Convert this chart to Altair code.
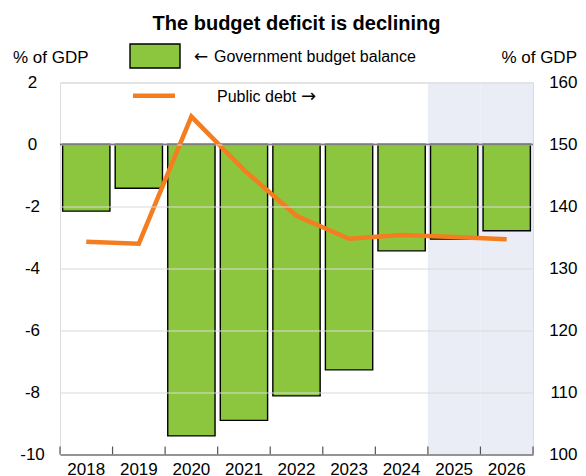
import altair as alt
import pandas as pd

years = ["2018", "2019", "2020", "2021", "2022", "2023", "2024", "2025", "2026"]
budget_balance = [-2.15, -1.41, -9.40, -8.90, -8.11, -7.27, -3.43, -3.05, -2.78]
public_debt = [134.3, 134.0, 154.5, 145.9, 138.5, 134.8, 135.4, 135.1, 134.7]
forecast_years = ["2025", "2026"]
left_ticks = [-10, -8, -6, -4, -2, 0, 2]
right_ticks = [100, 110, 120, 130, 140, 150, 160]

title_text = "The budget deficit is declining"
axis_unit = "% of GDP"
legend_bar = "Government budget balance"
legend_line = "Public debt"
arrow_left = "\u2190"
arrow_right = "\u2192"

W, H = 473, 372
FONT = "Liberation Sans"
GREEN = "#8CC63F"
ORANGE = "#F47D20"
SHADE = "#EAEDF6"

df = pd.DataFrame({"year": years, "balance": budget_balance, "debt": public_debt})
df["forecast"] = df["year"].isin(forecast_years)

xscale = alt.Scale(domain=years, paddingInner=0, paddingOuter=0)
xaxis = alt.Axis(title=None, labelFontSize=17, labelFont=FONT, labelColor="black",
                 labelPadding=7, ticks=False, tickSize=0, domainColor="#444444",
                 domainWidth=1.2, grid=False, labelAngle=0)

base = alt.Chart(df)

shade = base.transform_filter("datum.forecast").mark_rect(color=SHADE).encode(
    x=alt.X("year:O", scale=xscale, axis=xaxis),
    y=alt.value(0), y2=alt.value(H)
)

bars = base.mark_bar(color=GREEN, stroke="black", strokeWidth=1.4,
                     width=alt.RelativeBandSize(0.9)).encode(
    x=alt.X("year:O", scale=xscale, axis=xaxis),
    y=alt.Y("balance:Q", scale=alt.Scale(domain=[-10, 2], nice=False, zero=False),
            axis=alt.Axis(title=None, orient="left", values=left_ticks, labelFontSize=17,
                          labelFont=FONT, labelColor="black", labelAlign="center",
                          labelExpr="'' + datum.value",
                          labelPadding=28, ticks=False, tickSize=0, domain=False,
                          grid=True, gridColor="#D9D9D9", gridWidth=1.2, zindex=1)),
)

zero = alt.Chart(pd.DataFrame({"z": [0]})).mark_rule(color="#222222", strokeWidth=1.5).encode(
    y=alt.Y("z:Q"), x=alt.value(0), x2=alt.value(W)
)

left = alt.layer(bars, zero)

line = base.mark_line(color=ORANGE, strokeWidth=4.5).encode(
    x=alt.X("year:O", scale=xscale, axis=xaxis),
    y=alt.Y("debt:Q", scale=alt.Scale(domain=[100, 160], nice=False, zero=False),
            axis=alt.Axis(title=None, orient="right", values=right_ticks, labelFontSize=17,
                          labelFont=FONT, labelColor="black", labelAlign="right",
                          labelPadding=44, ticks=False, tickSize=0, domain=False, grid=False)),
)

ticks_start = base.mark_rule(color="#555555", strokeWidth=1.2).encode(
    x=alt.X("year:O", scale=xscale, axis=xaxis, bandPosition=0),
    y=alt.value(H - 8), y2=alt.value(H)
)
ticks_end = base.transform_filter(alt.datum.year == years[-1]).mark_rule(
    color="#555555", strokeWidth=1.2).encode(
    x=alt.X("year:O", scale=xscale, axis=xaxis, bandPosition=1),
    y=alt.value(H - 8), y2=alt.value(H)
)

ann = alt.Chart(pd.DataFrame({"a": [0]}))

title = ann.mark_text(text=title_text, font=FONT, fontSize=20, fontWeight="bold",
                      align="center", baseline="alphabetic", color="black").encode(
    x=alt.value(W / 2), y=alt.value(-53))
unit_left = ann.mark_text(text=axis_unit, font=FONT, fontSize=17, align="left",
                          baseline="alphabetic", color="black").encode(
    x=alt.value(-47), y=alt.value(-20))
unit_right = ann.mark_text(text=axis_unit, font=FONT, fontSize=17, align="right",
                           baseline="alphabetic", color="black").encode(
    x=alt.value(517), y=alt.value(-20))
leg_rect = ann.mark_rect(color=GREEN, stroke="black", strokeWidth=1.4).encode(
    x=alt.value(70), x2=alt.value(120), y=alt.value(-38.5), y2=alt.value(-14.5))
leg_arrow1 = ann.mark_text(text=arrow_left, font="DejaVu Sans", fontSize=17, align="left",
                           baseline="alphabetic", color="black").encode(
    x=alt.value(134), y=alt.value(-21))
leg_text1 = ann.mark_text(text=legend_bar, font=FONT, fontSize=16, align="left",
                          baseline="alphabetic", color="black").encode(
    x=alt.value(154), y=alt.value(-21))
leg_line = ann.mark_rule(color=ORANGE, strokeWidth=4.5).encode(
    x=alt.value(73), x2=alt.value(115), y=alt.value(13.2))
leg_text2 = ann.mark_text(text=legend_line, font=FONT, fontSize=16, align="left",
                          baseline="alphabetic", color="black").encode(
    x=alt.value(157), y=alt.value(19))
leg_arrow2 = ann.mark_text(text=arrow_right, font="DejaVu Sans", fontSize=18, align="left",
                           baseline="alphabetic", color="black").encode(
    x=alt.value(241), y=alt.value(19))

chart = alt.layer(
    shade, left, line, ticks_start, ticks_end,
    title, unit_left, unit_right, leg_rect, leg_arrow1, leg_text1,
    leg_line, leg_text2, leg_arrow2
).resolve_scale(y="independent").properties(
    width=W, height=H,
    autosize=alt.AutoSizeParams(type="none"),
    padding={"left": 52, "top": 74.5, "right": 45, "bottom": 22},
).configure_view(stroke=None).configure(background="white")

chart.save("out.html", embed_options={"renderer": "svg", "actions": False})
